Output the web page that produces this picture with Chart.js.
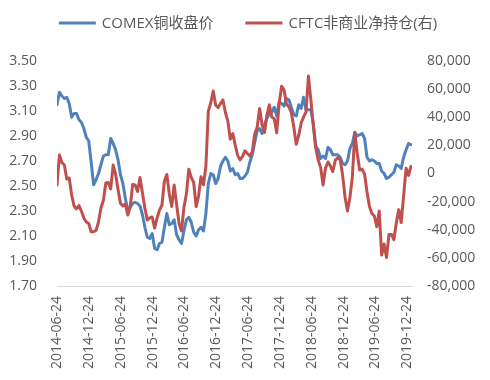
<!DOCTYPE html>
<html><head><meta charset="utf-8">
<script src="https://cdn.jsdelivr.net/npm/chart.js@4/dist/chart.umd.min.js"></script>
<style>html,body{margin:0;padding:0;background:#fff}#wrap{width:490px;height:380px}</style>
</head><body><div id="wrap"><canvas id="c" width="490" height="380"></canvas></div>
<script>
// ---- data ----
const startDate = '2014-06-24';
const stepDays = 14;
const tickLabels = ['2014-06-24','2014-12-24','2015-06-24','2015-12-24','2016-06-24','2016-12-24',
  '2017-06-24','2017-12-24','2018-06-24','2018-12-24','2019-06-24','2019-12-24'];
const axisEndDate = '2020-01-20';
const seriesNames = ['COMEX铜收盘价', 'CFTC非商业净持仓(右)'];
const copperPrice = [
  3.15,3.25,3.22,3.20,3.21,3.16,3.05,3.08,3.08,3.03,
  3.01,2.96,2.89,2.86,2.69,2.51,2.55,2.60,2.67,2.74,
  2.75,2.75,2.88,2.84,2.79,2.71,2.59,2.52,2.40,2.31,
  2.33,2.36,2.37,2.36,2.34,2.27,2.17,2.09,2.08,2.12,
  2.00,1.99,2.04,2.05,2.17,2.28,2.19,2.20,2.23,2.11,
  2.07,2.04,2.14,2.23,2.25,2.21,2.13,2.10,2.15,2.17,
  2.14,2.28,2.52,2.60,2.59,2.52,2.56,2.66,2.70,2.73,
  2.70,2.62,2.64,2.59,2.60,2.56,2.56,2.58,2.61,2.69,
  2.75,2.85,2.94,2.96,2.92,2.99,3.04,3.08,3.09,3.13,
  3.06,3.17,3.16,3.14,3.20,3.19,3.13,3.07,3.06,3.15,
  3.12,3.21,3.11,3.11,3.11,3.00,2.82,2.79,2.72,2.74,
  2.72,2.81,2.79,2.75,2.75,2.75,2.73,2.68,2.67,2.70,
  2.80,2.84,2.93,2.90,2.91,2.92,2.88,2.73,2.70,2.71,
  2.70,2.68,2.68,2.62,2.60,2.56,2.57,2.59,2.61,2.67,
  2.66,2.64,2.73,2.79,2.84,2.83
];
const cftcNet = [
  -8200,13200,7800,6000,-3900,-3200,-15300,-23100,-25200,-22800,
  -26700,-31600,-34500,-35600,-41400,-41400,-40500,-34500,-24500,-19200,
  -6800,-6400,-11000,6000,-400,-11400,-21200,-23100,-21700,-29500,
  -23800,-7800,-8200,-12800,-2800,-13900,-24500,-33100,-31600,-30900,
  -38800,-31600,-26000,-22400,-5300,-700,-14600,-23500,-8200,-22000,
  -35600,-40900,-24200,-14600,3000,-2800,-6400,-23600,-16000,-2300,
  -8000,5000,44400,50300,58700,48700,46900,49800,52300,43200,
  37200,24400,28400,20300,12900,9700,12200,16100,14200,12400,
  15300,28100,32800,46200,34800,29200,41600,48900,40200,38900,
  28900,49600,62000,59500,49300,47500,43200,33100,20800,26900,
  35700,40200,43700,69300,52300,33800,18100,9600,4300,-8200,
  3900,8200,5300,1400,9400,11200,9900,-1100,-16700,-26700,
  -17000,-2500,29000,14200,2500,3000,-400,-13200,-23500,-28400,
  -30200,-37800,-26700,-58000,-50100,-59700,-43400,-43300,-47000,-35200,
  -25700,-34900,-15800,3700,-1400,5000
];
// ---- helpers ----
const DAY = 86400000;
const t0 = Date.parse(startDate + 'T00:00:00Z');
const dayOf = s => Math.round((Date.parse(s + 'T00:00:00Z') - t0) / DAY);
const tickDays = tickLabels.map(dayOf);
const toPoints = arr => arr.map((v, i) => ({x: i * stepDays, y: v}));
const COLORS = ['#4F81BD', '#C0504D'];
const FONT = '"Open Sans", "Noto Sans CJK SC", sans-serif';
const TXT = '#595959';

const legendPlugin = {
  id: 'customLegend',
  afterDraw(chart) {
    const ctx = chart.ctx;
    ctx.save();
    ctx.font = '15px ' + FONT;
    ctx.textBaseline = 'middle';
    ctx.textAlign = 'left';
    const sampleW = 37, gapText = 6, gapItem = 32, cy = 23;
    const widths = seriesNames.map(n => sampleW + gapText + ctx.measureText(n).width);
    const total = widths.reduce((a, b) => a + b, 0) + gapItem * (seriesNames.length - 1);
    let x = 248 - total / 2;
    seriesNames.forEach((n, i) => {
      ctx.strokeStyle = COLORS[i];
      ctx.lineWidth = 3;
      ctx.beginPath();
      ctx.moveTo(x, cy);
      ctx.lineTo(x + sampleW, cy);
      ctx.stroke();
      ctx.fillStyle = TXT;
      ctx.fillText(n, x + sampleW + gapText, cy + 1);
      x += widths[i] + gapItem;
    });
    ctx.restore();
  }
};

new Chart(document.getElementById('c'), {
  type: 'line',
  data: {
    datasets: [
      {label: seriesNames[0], data: toPoints(copperPrice), yAxisID: 'y', borderColor: COLORS[0],
       borderWidth: 3, pointRadius: 0, tension: 0, order: 1, borderJoinStyle: 'round', borderCapStyle: 'round'},
      {label: seriesNames[1], data: toPoints(cftcNet), yAxisID: 'y1', borderColor: COLORS[1],
       borderWidth: 3, pointRadius: 0, tension: 0, order: 0, borderJoinStyle: 'round', borderCapStyle: 'round'}
    ]
  },
  options: {
    responsive: false,
    devicePixelRatio: 1,
    animation: false,
    layout: {padding: {top: 61, left: 0, right: 0, bottom: 0}},
    plugins: {legend: {display: false}, tooltip: {enabled: false}},
    scales: {
      x: {
        type: 'linear', min: 0, max: dayOf(axisEndDate),
        afterBuildTicks: s => { s.ticks = tickDays.map(v => ({value: v})); },
        afterFit: s => { s.height = 94; },
        grid: {display: false, drawTicks: false},
        border: {display: true, color: '#D9D9D9', width: 1},
        ticks: {autoSkip: false, minRotation: 90, maxRotation: 90, padding: 10,
          color: TXT, font: {family: FONT, size: 14},
          callback: (v, i) => tickLabels[i]}
      },
      y: {
        position: 'left', min: 1.7, max: 3.5,
        afterFit: s => { s.width = 57; },
        grid: {display: false, drawTicks: false},
        border: {display: false},
        ticks: {stepSize: 0.2, padding: 20, color: TXT, font: {family: FONT, size: 14},
          callback: v => Number(v).toFixed(2)}
      },
      y1: {
        position: 'right', min: -80000, max: 80000,
        afterFit: s => { s.width = 78; },
        grid: {display: false, drawTicks: false},
        border: {display: false},
        ticks: {stepSize: 20000, padding: 15, color: TXT, font: {family: FONT, size: 14},
          callback: v => Number(v).toLocaleString('en-US')}
      }
    }
  },
  plugins: [legendPlugin]
});
</script>
</body></html>
